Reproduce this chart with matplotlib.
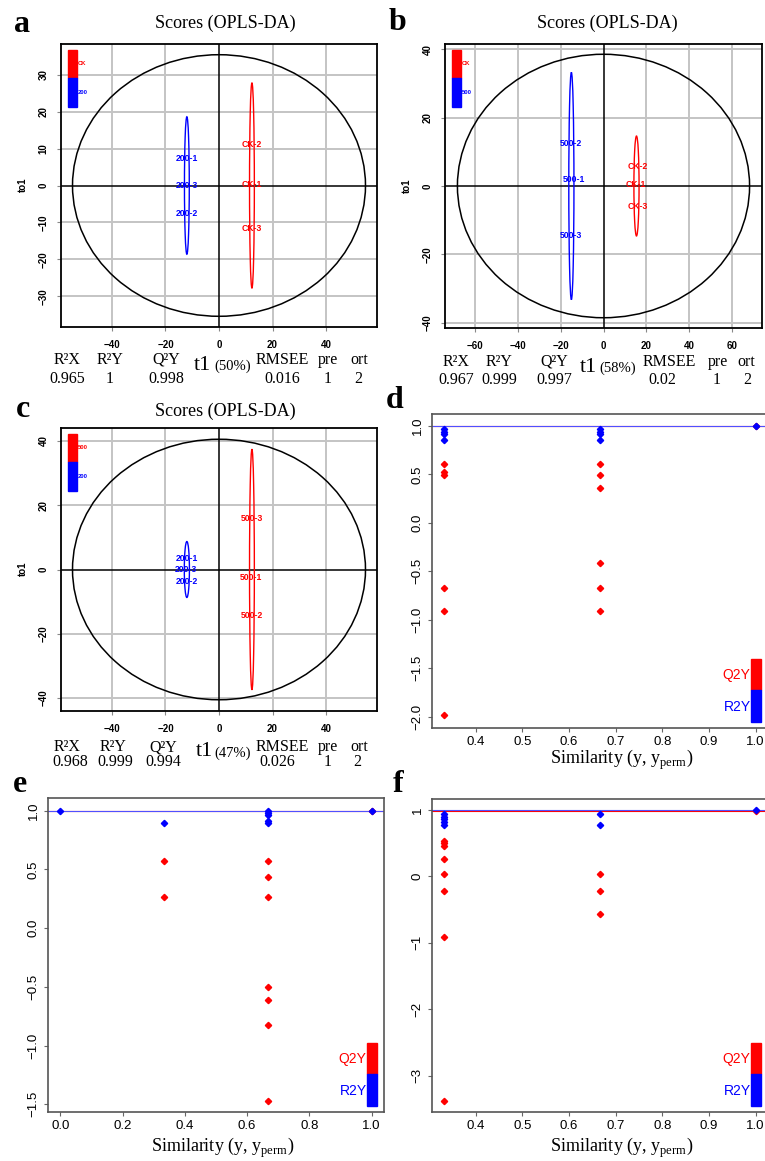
import matplotlib
matplotlib.use('Agg')
import matplotlib.pyplot as plt
from matplotlib.patches import Ellipse, Rectangle

W, H = 765, 1161
SERIF = 'Liberation Serif'
SANS = 'Liberation Sans'
RED = '#FF0000'
BLUE = '#0000FF'

# ── Score plots (OPLS-DA) ─────────────────────────────────────────────────────
a_groups = ['CK', '200']
a_centers = [12.3, -12.0]
a_half_w = [0.9, 0.9]
a_half_h = [27.8, 18.6]
a_labels = ['CK-2', 'CK-1', 'CK-3', '200-1', '200-3', '200-2']
a_lab_x = [12.3, 12.3, 12.3, -12.0, -12.0, -12.0]
a_lab_y = [11.0, 0.3, -11.7, 7.4, 0.0, -7.6]
a_big = (54.7, 35.4)
a_xticks = [-40, -20, 0, 20, 40]
a_yticks = [-30, -20, -10, 0, 10, 20, 30]
a_stats = ['0.965', '1', '0.998', '0.016', '1', '2']
a_t1 = '(50%)'

b_groups = ['CK', '500']
b_centers = [15.4, -15.0]
b_half_w = [1.2, 1.2]
b_half_h = [14.6, 33.2]
b_labels = ['CK-2', 'CK-1', 'CK-3', '500-2', '500-1', '500-3']
b_lab_x = [16.0, 15.0, 16.0, -15.0, -14.0, -15.0]
b_lab_y = [5.6, 0.5, -6.1, 12.3, 2.0, -14.6]
b_big = (68.2, 38.5)
b_xticks = [-60, -40, -20, 0, 20, 40, 60]
b_yticks = [-40, -20, 0, 20, 40]
b_stats = ['0.967', '0.999', '0.997', '0.02', '1', '2']
b_t1 = '(58%)'

c_groups = ['500', '200']
c_centers = [12.3, -12.0]
c_half_w = [0.9, 0.95]
c_half_h = [37.4, 8.7]
c_labels = ['500-3', '500-1', '500-2', '200-1', '200-3', '200-2']
c_lab_x = [12.3, 11.8, 12.3, -12.0, -12.2, -12.0]
c_lab_y = [15.9, -2.5, -14.3, 3.3, 0.0, -3.6]
c_big = (54.7, 40.5)
c_xticks = [-40, -20, 0, 20, 40]
c_yticks = [-40, -20, 0, 20, 40]
c_stats = ['0.968', '0.999', '0.994', '0.026', '1', '2']
c_t1 = '(47%)'

# ── Permutation plots ─────────────────────────────────────────────────────────
d_r2_x = [1/3, 1/3, 1/3, 1/3, 2/3, 2/3, 2/3, 2/3, 1.0]
d_r2_y = [0.966, 0.942, 0.918, 0.856, 0.966, 0.935, 0.914, 0.856, 0.999]
d_q2_x = [1/3, 1/3, 1/3, 1/3, 1/3, 1/3, 2/3, 2/3, 2/3, 2/3, 2/3, 2/3, 1.0]
d_q2_y = [0.606, 0.52, 0.49, -0.671, -0.908, -1.983,
          0.606, 0.49, 0.363, -0.411, -0.671, -0.908, 0.997]
d_model = (0.999, 0.997)

e_r2_x = [0.0, 1/3, 2/3, 2/3, 2/3, 2/3, 2/3, 1.0]
e_r2_y = [1.0, 0.892, 0.997, 0.983, 0.966, 0.915, 0.892, 1.0]
e_q2_x = [1/3, 1/3, 2/3, 2/3, 2/3, 2/3, 2/3, 2/3, 2/3, 1.0]
e_q2_y = [0.568, 0.264, 0.568, 0.437, 0.264, -0.5, -0.616, -0.821, -1.472, 0.994]
e_model = (0.999, 0.994)

f_r2_x = [1/3, 1/3, 1/3, 1/3, 1/3, 2/3, 2/3, 1.0]
f_r2_y = [0.935, 0.9, 0.86, 0.824, 0.774, 0.935, 0.774, 0.999]
f_q2_x = [1/3, 1/3, 1/3, 1/3, 1/3, 1/3, 1/3, 1/3, 2/3, 2/3, 2/3, 1.0]
f_q2_y = [0.538, 0.508, 0.457, 0.261, 0.03, -0.216, -0.915, -3.382,
          0.03, -0.216, -0.568, 0.99]
f_model = (0.999, 0.99)

STAT_HEAD = ['R²X', 'R²Y', 'Q²Y', 'RMSEE', 'pre', 'ort']


def rect(l, t, r, b):
    return [l / W, 1 - b / H, (r - l) / W, (b - t) / H]


def fx(px):
    return px / W


def fy(py):
    return 1 - py / H


plt.rcParams['mathtext.fontset'] = 'custom'
plt.rcParams['mathtext.rm'] = SERIF

fig = plt.figure(figsize=(W / 100, H / 100), dpi=100)


def score_panel(box, lims, groups, centers, hw, hh, labels, lx, ly, big,
                xticks, yticks):
    ax = fig.add_axes(rect(*box))
    ax.set_xlim(-lims[0], lims[0])
    ax.set_ylim(-lims[1], lims[1])
    for v in xticks:
        if v != 0:
            ax.axvline(v, color='#C4C4C4', lw=1.4, zorder=0)
    for v in yticks:
        if v != 0:
            ax.axhline(v, color='#C4C4C4', lw=1.4, zorder=0)
    ax.axvline(0, color='black', lw=1.1, zorder=1)
    ax.axhline(0, color='black', lw=1.1, zorder=1)
    ax.add_patch(Ellipse((0, 0), 2 * big[0], 2 * big[1], fill=False,
                         ec='black', lw=1.1, zorder=2))
    cols = [RED, BLUE]
    for cx, w, h, c in zip(centers, hw, hh, cols):
        ax.add_patch(Ellipse((cx, 0), 2 * w, 2 * h, fill=False, ec=c,
                             lw=1.0, zorder=3))
    for i, (t, x, y) in enumerate(zip(labels, lx, ly)):
        ax.text(x, y, t, color=cols[i // 3], fontsize=6.2, fontweight='bold',
                family=SANS, ha='center', va='center', zorder=4)
    # legend
    ax.add_patch(Rectangle((0.022, 0.879), 0.03, 0.1, transform=ax.transAxes,
                           color=RED, zorder=5))
    ax.add_patch(Rectangle((0.022, 0.777), 0.03, 0.102, transform=ax.transAxes,
                           color=BLUE, zorder=5))
    ax.text(0.052, 0.93, groups[0], transform=ax.transAxes, color=RED,
            fontsize=4.2, fontweight='bold', family=SANS, va='center')
    ax.text(0.052, 0.828, groups[1], transform=ax.transAxes, color=BLUE,
            fontsize=4.2, fontweight='bold', family=SANS, va='center')
    ax.set_xticks(xticks)
    ax.set_yticks(yticks)
    ax.set_xticklabels([f'{v}'.replace('-', '\u2212') for v in xticks])
    ax.set_yticklabels([f'{v}'.replace('-', '\u2212') for v in yticks],
                       rotation=90, va='center')
    ax.tick_params(length=3, width=0.8, color='#888888', labelsize=7,
                   pad=6)
    for lab in ax.get_xticklabels() + ax.get_yticklabels():
        lab.set_fontweight('bold')
        lab.set_family(SANS)
    for s in ax.spines.values():
        s.set_linewidth(1.3)
    return ax


def score_texts(title_xy, ylab_xy, letter_xy, head_y, val_y, head_x,
                val_x, t1_x, t1_txt, stats):
    fig.text(fx(title_xy[0]), fy(title_xy[1]), 'Scores (OPLS-DA)',
             family=SERIF, fontsize=13, ha='center', va='center')
    fig.text(fx(ylab_xy[0]), fy(ylab_xy[1]), 'to1', family=SANS,
             fontsize=7, fontweight='bold', rotation=90, ha='center',
             va='center')
    fig.text(fx(letter_xy[0]), fy(letter_xy[1]), letter_xy[2], family=SERIF,
             fontsize=23, fontweight='bold', ha='center', va='center')
    for t, x in zip(STAT_HEAD, head_x):
        fig.text(fx(x), fy(head_y), t, family=SERIF, fontsize=11.5,
                 ha='center', va='center')
    for t, x in zip(stats, val_x):
        fig.text(fx(x), fy(val_y), t, family=SERIF, fontsize=11.5,
                 ha='center', va='center')
    fig.text(fx(t1_x[0]), fy(head_y + 5), 't1', family=SERIF, fontsize=16,
             ha='center', va='center')
    fig.text(fx(t1_x[1]), fy(head_y + 6), t1_txt, family=SERIF, fontsize=10.5,
             ha='center', va='center')


score_panel((61, 44, 377, 327), (59, 38.3), a_groups, a_centers,
            a_half_w, a_half_h, a_labels, a_lab_x, a_lab_y, a_big,
            a_xticks, a_yticks)
score_texts((225, 23), (23, 185), (22, 24, 'a'), 360, 379,
            [67, 110, 166, 282, 328, 359], [67, 110, 166, 282, 328, 358],
            (202, 233), a_t1, a_stats)

score_panel((445, 44, 762, 328), (74, 41.5), b_groups, b_centers,
            b_half_w, b_half_h, b_labels, b_lab_x, b_lab_y, b_big,
            b_xticks, b_yticks)
score_texts((607, 23), (407, 186), (397, 22, 'b'), 362, 380,
            [456, 499, 554, 669, 718, 746], [456, 499, 554, 662, 717, 747],
            (588, 618), b_t1, b_stats)

score_panel((61, 428, 377, 711), (59, 44), c_groups, c_centers,
            c_half_w, c_half_h, c_labels, c_lab_x, c_lab_y, c_big,
            c_xticks, c_yticks)
score_texts((225, 411), (23, 569), (23, 410, 'c'), 747, 762,
            [67, 113, 163, 282, 328, 359], [70, 115, 163, 277, 328, 357],
            (204, 233), c_t1, c_stats)


def perm_panel(box, xlim, ylim, r2x, r2y, q2x, q2y, model, xticks, yticks,
               ytick_fmt, letter_xy, xlab_xy):
    ax = fig.add_axes(rect(*box))
    ax.set_xlim(*xlim)
    ax.set_ylim(*ylim)
    ax.axhline(model[1], color=RED, lw=0.8, zorder=1)
    ax.axhline(model[0], color='#5050FF', lw=0.8, zorder=1)
    ax.plot(q2x, q2y, 'D', color=RED, ms=3.2, mec=RED, zorder=3)
    ax.plot(r2x, r2y, 'D', color=BLUE, ms=3.2, mec=BLUE, zorder=4)
    ax.add_patch(Rectangle((0.95, 0.121), 0.03, 0.1, transform=ax.transAxes,
                           color=RED, zorder=5))
    ax.add_patch(Rectangle((0.95, 0.019), 0.03, 0.102, transform=ax.transAxes,
                           color=BLUE, zorder=5))
    ax.text(0.948, 0.17, 'Q2Y', transform=ax.transAxes, color=RED,
            fontsize=10, family=SANS, ha='right', va='center')
    ax.text(0.948, 0.068, 'R2Y', transform=ax.transAxes, color=BLUE,
            fontsize=10, family=SANS, ha='right', va='center')
    ax.set_xticks(xticks)
    ax.set_xticklabels([f'{v:.1f}' for v in xticks])
    ax.set_yticks(yticks)
    ax.set_yticklabels([ytick_fmt(v).replace('-', '\u2212') for v in yticks],
                       rotation=90, va='center')
    ax.tick_params(length=3, width=0.8, color='#666666', labelsize=9.5,
                   pad=3)
    for lab in ax.get_xticklabels() + ax.get_yticklabels():
        lab.set_family(SANS)
    for s in ax.spines.values():
        s.set_linewidth(1.2)
        s.set_color('#555555')
    fig.text(fx(letter_xy[0]), fy(letter_xy[1]), letter_xy[2], family=SERIF,
             fontsize=23, fontweight='bold', ha='center', va='center')
    fig.text(fx(xlab_xy[0]), fy(xlab_xy[1]),
             r'Similarity (y, y$_\mathregular{perm}$)', family=SERIF,
             fontsize=13, ha='center', va='center')
    return ax


perm_panel((432, 414, 768, 728), (0.3067, 1.0267), (-2.118, 1.124),
           d_r2_x, d_r2_y, d_q2_x, d_q2_y, d_model,
           [0.4, 0.5, 0.6, 0.7, 0.8, 0.9, 1.0],
           [-2.0, -1.5, -1.0, -0.5, 0.0, 0.5, 1.0],
           lambda v: f'{v:.1f}', (395, 400, 'd'), (622, 760))

perm_panel((48, 798, 384, 1112), (-0.04, 1.04), (-1.566, 1.108),
           e_r2_x, e_r2_y, e_q2_x, e_q2_y, e_model,
           [0.0, 0.2, 0.4, 0.6, 0.8, 1.0],
           [-1.5, -1.0, -0.5, 0.0, 0.5, 1.0],
           lambda v: f'{v:.1f}', (20, 784, 'e'), (223, 1148))

perm_panel((432, 799, 768, 1112), (0.3067, 1.0267), (-3.547, 1.166),
           f_r2_x, f_r2_y, f_q2_x, f_q2_y, f_model,
           [0.4, 0.5, 0.6, 0.7, 0.8, 0.9, 1.0],
           [-3, -2, -1, 0, 1],
           lambda v: f'{v:d}', (398, 784, 'f'), (622, 1148))

fig.savefig('out.png', dpi=100)
